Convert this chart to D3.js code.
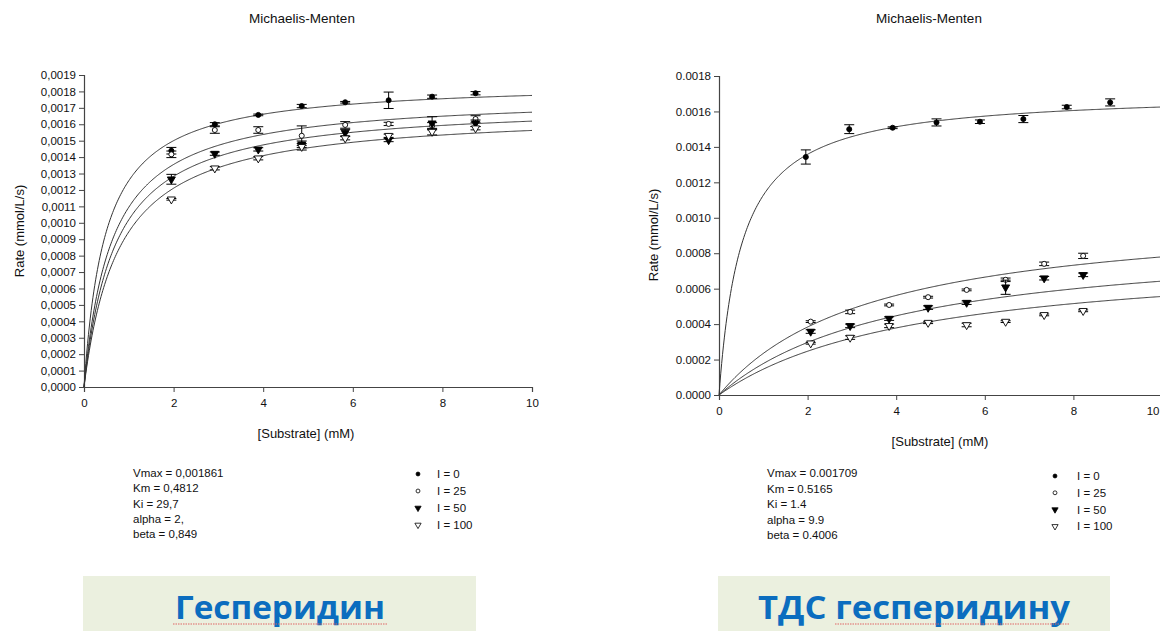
<!DOCTYPE html>
<html>
<head>
<meta charset="utf-8">
<script src="https://cdn.jsdelivr.net/npm/d3@7"></script>
<style>
  html, body { margin: 0; padding: 0; background: #fff; }
  svg { display: block; }
</style>
</head>
<body>
<svg id="chart" width="1160" height="631"></svg>
<script>
// ---------------- DATA ----------------
const inhibitorLevels = [0, 25, 50, 100];
const legendLabels = ["I = 0", "I = 25", "I = 50", "I = 100"];
const xTicks = [0, 2, 4, 6, 8, 10];
const leftYTicks = [0, 0.0001, 0.0002, 0.0003, 0.0004, 0.0005, 0.0006, 0.0007, 0.0008, 0.0009,
                    0.0010, 0.0011, 0.0012, 0.0013, 0.0014, 0.0015, 0.0016, 0.0017, 0.0018, 0.0019];
const rightYTicks = [0, 0.0002, 0.0004, 0.0006, 0.0008, 0.0010, 0.0012, 0.0014, 0.0016, 0.0018];

// Left chart (Гесперидин)
const leftSubstrate = [1.95, 2.92, 3.89, 4.86, 5.83, 6.80, 7.77, 8.74];
const leftRateI0   = [0.001439, 0.001600, 0.001657, 0.001711, 0.001734, 0.001746, 0.001768, 0.001789];
const leftRateI25  = [0.001417, 0.001565, 0.001565, 0.001530, 0.001596, 0.001602, 0.001590, 0.001632];
const leftRateI50  = [0.001265, 0.001421, 0.001447, 0.001478, 0.001549, 0.001504, 0.001606, 0.001606];
const leftRateI100 = [0.001143, 0.001332, 0.001393, 0.001463, 0.001515, 0.001530, 0.001555, 0.001576];
const leftErrI0    = [0.00002, 0.00001, 0.000005, 0.00001, 0.000005, 0.00005, 0.00001, 0.00001];
const leftErrI25   = [0.00002, 0.00002, 0.00002, 0.00006, 0.00002, 0.00001, 0.00002, 0.00002];
const leftErrI50   = [0.00003, 0.00001, 0.00001, 0.00002, 0.00002, 0.00001, 0.00004, 0.00002];
const leftErrI100  = [0.000005, 0.00001, 0.00001, 0.00002, 0.00001, 0.00001, 0.00002, 0.00001];
const leftParamNames  = ["Vmax = 0,001861", "Km = 0,4812", "Ki = 29,7", "alpha = 2,", "beta = 0,849"];
const leftVmax = 0.001861, leftKm = 0.4812, leftKi = 29.7, leftAlpha = 2, leftBeta = 0.849;

// Right chart (ТДС гесперидину)
const rightSubstrateI0 = [1.96, 2.94, 3.92, 4.91, 5.89, 6.87, 7.85, 8.83];
const rightSubstrate   = [2.07, 2.96, 3.84, 4.72, 5.59, 6.47, 7.34, 8.22];
const rightRateI0   = [0.001343, 0.001500, 0.001508, 0.001538, 0.001542, 0.001557, 0.001625, 0.001651];
const rightRateI25  = [0.000414, 0.000469, 0.000508, 0.000552, 0.000593, 0.000650, 0.000740, 0.000785];
const rightRateI50  = [0.000358, 0.000390, 0.000431, 0.000493, 0.000521, 0.000608, 0.000659, 0.000678];
const rightRateI100 = [0.000292, 0.000324, 0.000390, 0.000408, 0.000395, 0.000414, 0.000452, 0.000475];
const rightErrI0    = [0.00004, 0.000025, 0.000005, 0.00002, 0.00001, 0.00002, 0.00001, 0.00002];
const rightErrI25   = [0.000005, 0.00001, 0.000005, 0.000005, 0.000005, 0.00001, 0.00001, 0.000015];
const rightErrI50   = [0.00001, 0.00001, 0.00001, 0.00001, 0.00001, 0.00004, 0.00001, 0.00001];
const rightErrI100  = [0.000005, 0.00001, 0.00001, 0.000005, 0.00001, 0.000005, 0.000005, 0.000005];
const rightParamNames = ["Vmax = 0.001709", "Km = 0.5165", "Ki = 1.4", "alpha = 9.9", "beta = 0.4006"];
const rightVmax = 0.001709, rightKm = 0.5165, rightKi = 1.4, rightAlpha = 9.9, rightBeta = 0.4006;

const bottomTitles = ["Гесперидин", "ТДС гесперидину"];

// ---------------- DRAWING ----------------
const W = 1160;
const svg = d3.select("#chart");
const FONT = "Arial, 'Liberation Sans', sans-serif";
const commaFmt = d3.formatLocale({decimal: ",", thousands: ".", grouping: [3], currency: ["", ""]}).format(".4f");
const dotFmt = d3.format(".4f");

// partial mixed inhibition model (SigmaPlot enzyme kinetics) using the fitted parameters shown
function rateModel(p, I, S) {
  const a = I / p.Ki, b = I / (p.alpha * p.Ki);
  return p.Vmax * S * (1 + p.beta * b) / (p.Km * (1 + a) + S * (1 + b));
}

const symbolDefs = [
  {type: d3.symbolCircle, size: 20, fill: "#000"},
  {type: d3.symbolCircle, size: 20, fill: "#fff"},
  {type: d3.symbolTriangle, size: 28, fill: "#000", flip: true},
  {type: d3.symbolTriangle, size: 28, fill: "#fff", flip: true}
];

function drawChart(cfg) {
  const g = svg.append("g");
  const x = d3.scaleLinear().domain([0, 10]).range([cfg.x0, cfg.x1]);
  const y = d3.scaleLinear().domain([0, cfg.yMax]).range([cfg.y0, cfg.y1]);

  // axes
  const yAxis = d3.axisLeft(y).tickValues(cfg.yTicks).tickFormat(cfg.fmt).tickSize(5).tickPadding(3);
  const xAxis = d3.axisBottom(x).tickValues(xTicks).tickFormat(d3.format("d")).tickSize(5).tickPadding(7);
  const ya = g.append("g").attr("transform", `translate(${cfg.x0},0)`).call(yAxis);
  const xa = g.append("g").attr("transform", `translate(0,${cfg.y0})`).call(xAxis);
  [ya, xa].forEach(a => {
    a.select(".domain").attr("stroke", "#444").attr("stroke-width", 1.2);
    a.selectAll(".tick line").attr("stroke", "#444");
    a.selectAll("text").attr("font-family", FONT).attr("font-size", 11.5).attr("fill", "#111");
  });
  // keep an x tick label that would run past the page edge inside it
  xa.selectAll(".tick text").each(function(d) {
    const px = x(d);
    if (px + 8 > W) d3.select(this).attr("text-anchor", "end").attr("x", (W - 1) - px);
  });

  // titles
  g.append("text").attr("x", cfg.titleX).attr("y", 23).attr("text-anchor", "middle")
    .attr("font-family", FONT).attr("font-size", 13.5).attr("fill", "#111").text("Michaelis-Menten");
  g.append("text").attr("transform", `translate(${cfg.yLabelX},${cfg.yLabelY}) rotate(-90)`)
    .attr("text-anchor", "middle").attr("dy", "0.35em")
    .attr("font-family", FONT).attr("font-size", 13).attr("fill", "#111").text("Rate (mmol/L/s)");
  g.append("text").attr("x", cfg.xLabelX).attr("y", cfg.xLabelY).attr("text-anchor", "middle")
    .attr("font-family", FONT).attr("font-size", 13).attr("fill", "#111").text("[Substrate] (mM)");

  // fitted curves
  const sGrid = d3.range(0, 10.0001, 0.02);
  const line = d3.line().x(d => x(d[0])).y(d => y(d[1]));
  inhibitorLevels.forEach(I => {
    const pts = sGrid.map(s => [s, rateModel(cfg.params, I, s)]);
    g.append("path").attr("d", line(pts)).attr("fill", "none").attr("stroke", "#333").attr("stroke-width", 1);
  });

  // error bars + points
  cfg.series.forEach((ser, k) => {
    const sd = symbolDefs[k];
    const sym = d3.symbol().type(sd.type).size(sd.size);
    ser.rates.forEach((v, i) => {
      const cx = x(ser.xs[i]), e = ser.errs[i];
      const yt = y(v + e), yb = y(v - e);
      g.append("line").attr("x1", cx).attr("x2", cx).attr("y1", yt).attr("y2", yb).attr("stroke", "#000").attr("stroke-width", 1);
      [yt, yb].forEach(yy => g.append("line").attr("x1", cx - 5).attr("x2", cx + 5).attr("y1", yy).attr("y2", yy)
        .attr("stroke", "#000").attr("stroke-width", 1));
      g.append("path").attr("d", sym())
        .attr("transform", `translate(${cx},${y(v)})${sd.flip ? " rotate(180)" : ""}`)
        .attr("fill", sd.fill).attr("stroke", "#000").attr("stroke-width", 0.9);
    });
  });

  // parameter text
  cfg.paramText.forEach((t, i) => {
    g.append("text").attr("x", cfg.paramX).attr("y", cfg.paramY + i * cfg.paramStep)
      .attr("font-family", FONT).attr("font-size", 11.5).attr("fill", "#111").text(t);
  });

  // legend
  legendLabels.forEach((t, i) => {
    const sd = symbolDefs[i];
    const ly = cfg.legY + i * cfg.legStep;
    g.append("path").attr("d", d3.symbol().type(sd.type).size(sd.size * 0.6)())
      .attr("transform", `translate(${cfg.legSymX},${ly})${sd.flip ? " rotate(180)" : ""}`)
      .attr("fill", sd.fill).attr("stroke", "#000").attr("stroke-width", 0.8);
    g.append("text").attr("x", cfg.legTextX).attr("y", ly).attr("dy", "0.35em")
      .attr("font-family", FONT).attr("font-size", 11.5).attr("fill", "#111").text(t);
  });
}

drawChart({
  x0: 84, x1: 532, y0: 387, y1: 75, yMax: 0.0019, yTicks: leftYTicks, fmt: commaFmt,
  titleX: 302, yLabelX: 19, yLabelY: 231, xLabelX: 306, xLabelY: 438,
  params: {Vmax: leftVmax, Km: leftKm, Ki: leftKi, alpha: leftAlpha, beta: leftBeta},
  series: [
    {xs: leftSubstrate, rates: leftRateI0, errs: leftErrI0},
    {xs: leftSubstrate, rates: leftRateI25, errs: leftErrI25},
    {xs: leftSubstrate, rates: leftRateI50, errs: leftErrI50},
    {xs: leftSubstrate, rates: leftRateI100, errs: leftErrI100}
  ],
  paramText: leftParamNames, paramX: 133, paramY: 477, paramStep: 15.3,
  legSymX: 418, legTextX: 437, legY: 474, legStep: 17
});

drawChart({
  x0: 719, x1: 1162, y0: 395, y1: 76, yMax: 0.0018, yTicks: rightYTicks, fmt: dotFmt,
  titleX: 929, yLabelX: 653, yLabelY: 235, xLabelX: 940, xLabelY: 446,
  params: {Vmax: rightVmax, Km: rightKm, Ki: rightKi, alpha: rightAlpha, beta: rightBeta},
  series: [
    {xs: rightSubstrateI0, rates: rightRateI0, errs: rightErrI0},
    {xs: rightSubstrate, rates: rightRateI25, errs: rightErrI25},
    {xs: rightSubstrate, rates: rightRateI50, errs: rightErrI50},
    {xs: rightSubstrate, rates: rightRateI100, errs: rightErrI100}
  ],
  paramText: rightParamNames, paramX: 767, paramY: 477, paramStep: 15.6,
  legSymX: 1055, legTextX: 1077, legY: 476, legStep: 16.8
});

// bottom caption boxes
const boxes = [
  {x: 83, w: 393, cx: 280, tw: 210, ux0: 173, ux1: 388},
  {x: 718, w: 392, cx: 914, tw: 312, ux0: 835, ux1: 1070}
];
boxes.forEach((b, i) => {
  svg.append("rect").attr("x", b.x).attr("y", 576).attr("width", b.w).attr("height", 60).attr("fill", "#ebf0df");
  svg.append("text").attr("x", b.cx).attr("y", 619).attr("text-anchor", "middle")
    .attr("font-family", "'Open Sans', 'Noto Sans', sans-serif").attr("font-weight", "bold")
    .attr("font-size", 33).attr("fill", "#0b6dbf")
    .attr("textLength", b.tw).attr("lengthAdjust", "spacingAndGlyphs")
    .text(bottomTitles[i]);
  svg.append("line").attr("x1", b.ux0).attr("x2", b.ux1).attr("y1", 624).attr("y2", 624)
    .attr("stroke", "#e06666").attr("stroke-width", 1.2).attr("stroke-dasharray", "1.5,1");
});
</script>
</body>
</html>
